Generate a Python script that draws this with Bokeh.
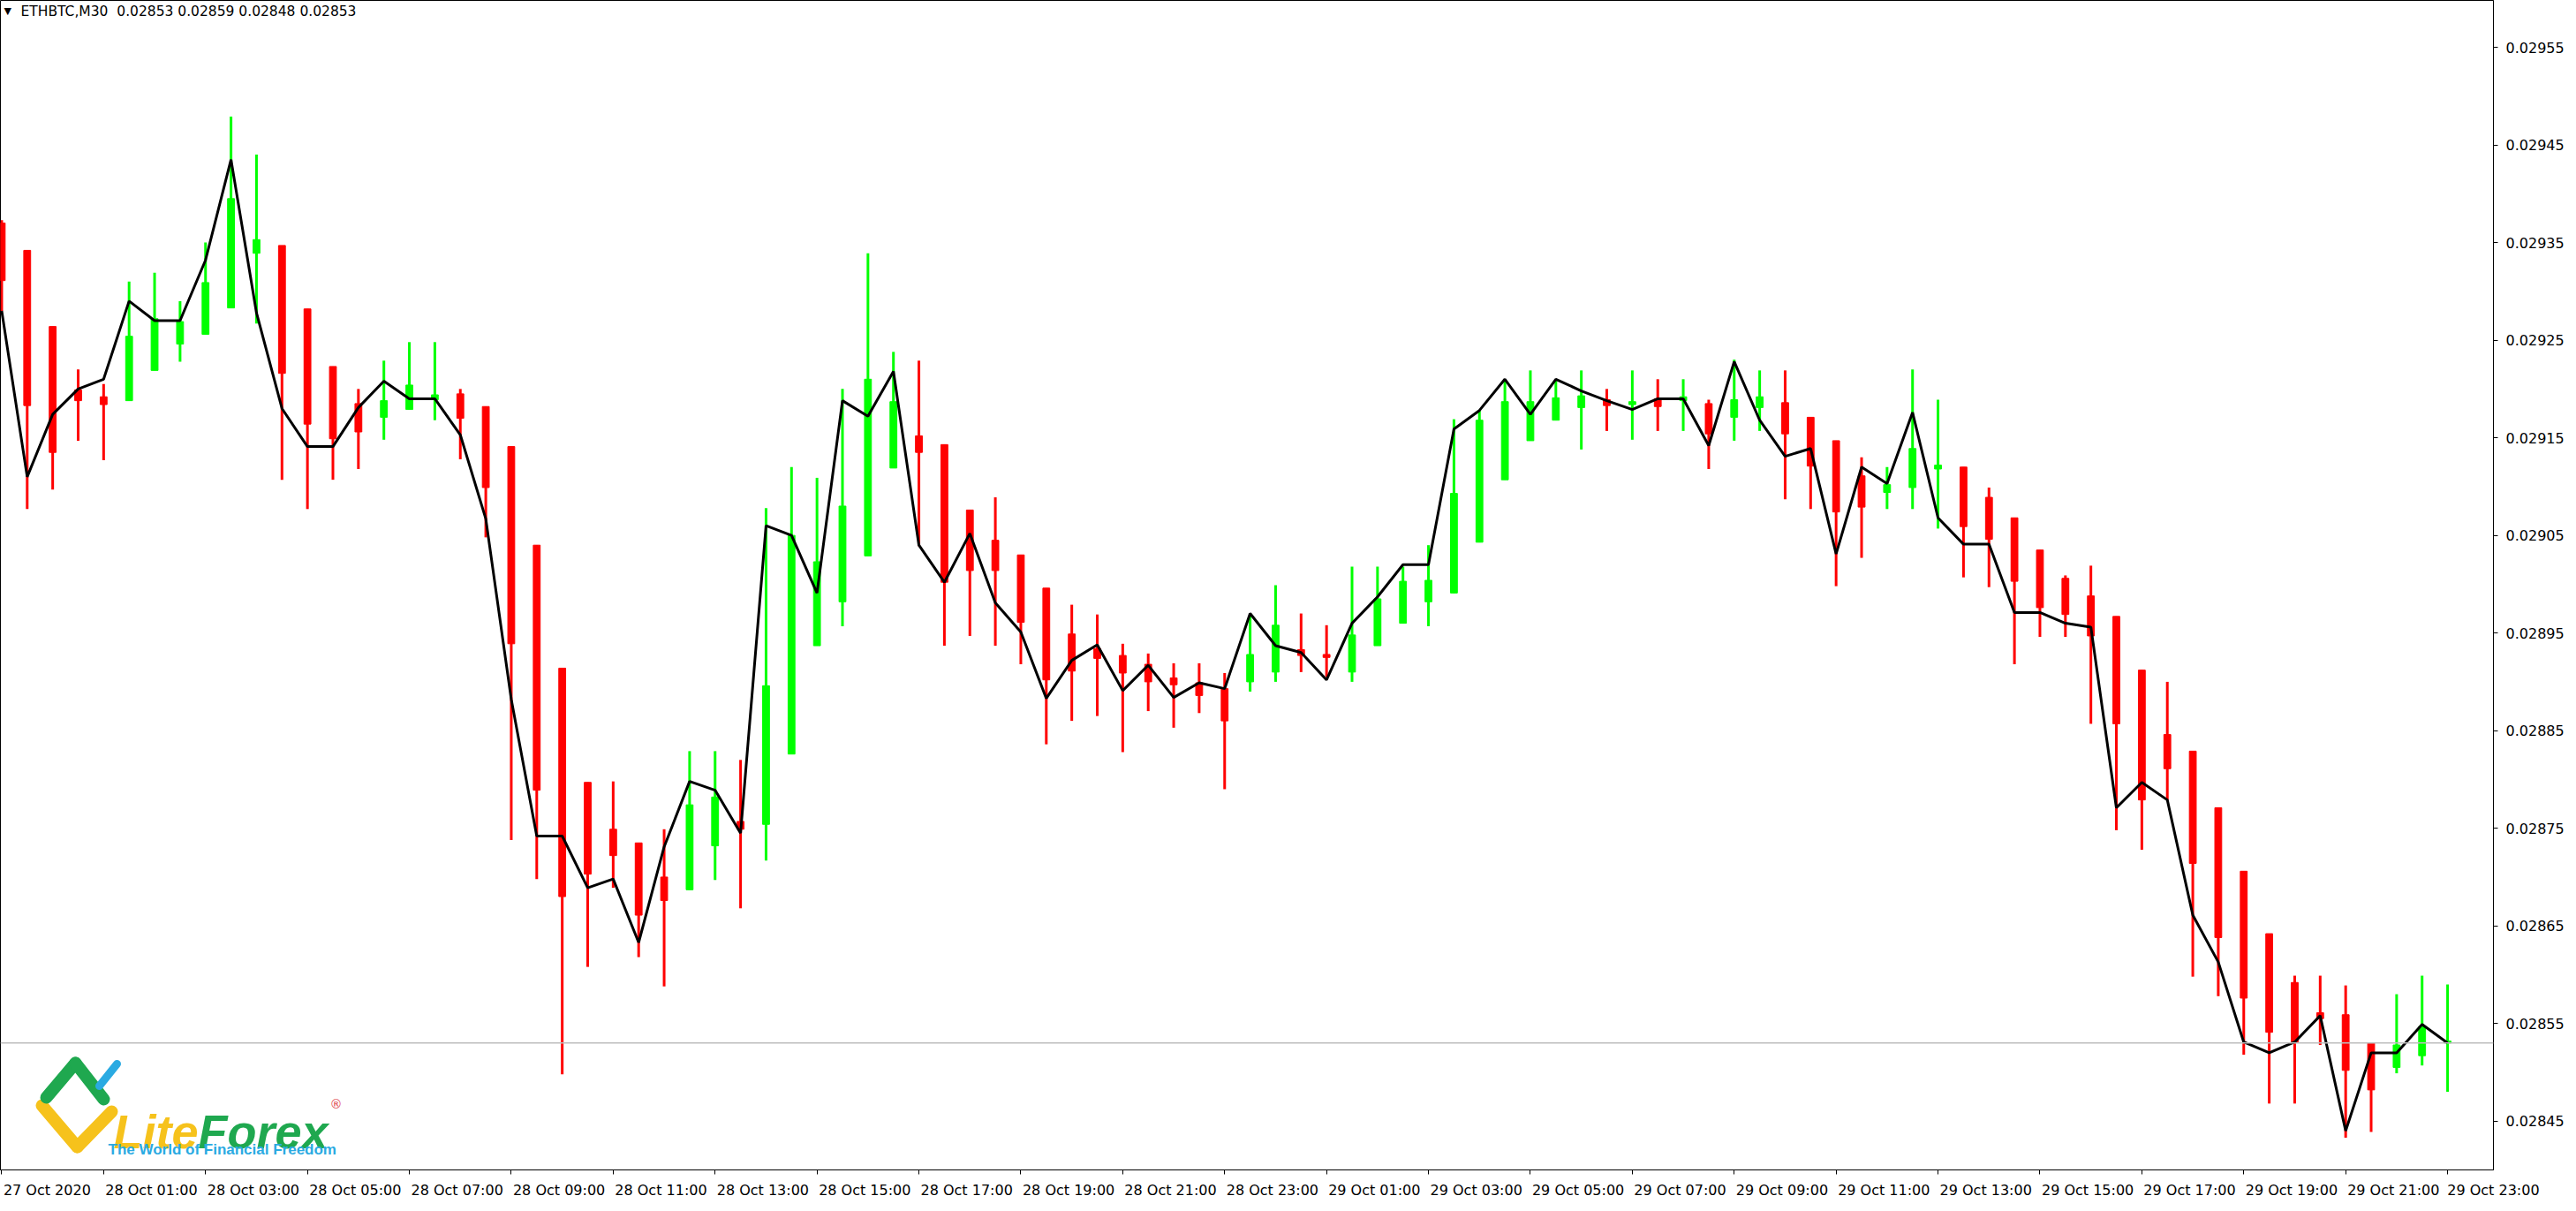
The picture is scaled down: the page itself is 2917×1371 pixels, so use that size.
from bokeh.plotting import figure
from bokeh.models import Range1d, FixedTicker, Span, Label, ColumnDataSource, Arrow
from bokeh.embed import file_html
from bokeh.resources import INLINE

# ---------------- data (ETHBTC, M30, Heikin-Ashi candles + close line) ----------------
symbol = "ETHBTC,M30"
last_ohlc = ["0.02853", "0.02859", "0.02848", "0.02853"]
last_price = 0.02853

ha_open = [
    0.029370, 0.029342, 0.029264, 0.029199, 0.029192, 0.029188, 0.029219, 0.029246, 0.029256, 0.029283,
    0.029339, 0.029347, 0.029282, 0.029223, 0.029185, 0.029171, 0.029179, 0.029189, 0.029195, 0.029182,
    0.029141, 0.029040, 0.028914, 0.028797, 0.028749, 0.028735, 0.028700, 0.028687, 0.028732, 0.028757,
    0.028754, 0.028826, 0.028937, 0.028982, 0.029029, 0.029119, 0.029152, 0.029143, 0.029076, 0.029045,
    0.029030, 0.028996, 0.028949, 0.028934, 0.028927, 0.028918, 0.028904, 0.028899, 0.028893, 0.028900,
    0.028910, 0.028933, 0.028928, 0.028910, 0.028937, 0.028960, 0.028982, 0.028991, 0.029043, 0.029107,
    0.029147, 0.029168, 0.029181, 0.029189, 0.029184, 0.029190, 0.029188, 0.029185, 0.029171, 0.029181,
    0.029186, 0.029171, 0.029147, 0.029111, 0.029094, 0.029099, 0.029118, 0.029120, 0.029089, 0.029068,
    0.029035, 0.029006, 0.028988, 0.028967, 0.028912, 0.028846, 0.028829, 0.028771, 0.028706, 0.028642,
    0.028592, 0.028561, 0.028559, 0.028530, 0.028505, 0.028517, 0.028530]
ha_high = [
    0.029373, 0.029342, 0.029264, 0.029220, 0.029205, 0.029310, 0.029319, 0.029290, 0.029350, 0.029479,
    0.029440, 0.029347, 0.029282, 0.029223, 0.029200, 0.029229, 0.029248, 0.029248, 0.029200, 0.029182,
    0.029141, 0.029040, 0.028914, 0.028797, 0.028798, 0.028735, 0.028749, 0.028829, 0.028829, 0.028820,
    0.029078, 0.029120, 0.029109, 0.029200, 0.029339, 0.029238, 0.029229, 0.029143, 0.029076, 0.029089,
    0.029030, 0.028996, 0.028979, 0.028969, 0.028939, 0.028929, 0.028919, 0.028919, 0.028909, 0.028970,
    0.028999, 0.028970, 0.028958, 0.029018, 0.029018, 0.029018, 0.029040, 0.029169, 0.029178, 0.029210,
    0.029219, 0.029210, 0.029219, 0.029200, 0.029219, 0.029210, 0.029210, 0.029189, 0.029230, 0.029219,
    0.029219, 0.029171, 0.029147, 0.029130, 0.029120, 0.029220, 0.029189, 0.029120, 0.029099, 0.029068,
    0.029035, 0.029009, 0.029019, 0.028967, 0.028912, 0.028900, 0.028829, 0.028771, 0.028706, 0.028642,
    0.028599, 0.028599, 0.028589, 0.028530, 0.028580, 0.028599, 0.028590]
ha_low = [
    0.029280, 0.029077, 0.029097, 0.029147, 0.029127, 0.029188, 0.029219, 0.029228, 0.029256, 0.029283,
    0.029267, 0.029107, 0.029077, 0.029107, 0.029118, 0.029148, 0.029179, 0.029168, 0.029128, 0.029048,
    0.028738, 0.028698, 0.028498, 0.028608, 0.028689, 0.028618, 0.028588, 0.028687, 0.028697, 0.028668,
    0.028717, 0.028826, 0.028937, 0.028957, 0.029029, 0.029119, 0.029039, 0.028937, 0.028947, 0.028937,
    0.028918, 0.028836, 0.028860, 0.028865, 0.028828, 0.028870, 0.028853, 0.028868, 0.028790, 0.028890,
    0.028900, 0.028910, 0.028905, 0.028900, 0.028937, 0.028960, 0.028957, 0.028991, 0.029043, 0.029107,
    0.029147, 0.029168, 0.029138, 0.029157, 0.029148, 0.029157, 0.029157, 0.029118, 0.029147, 0.029157,
    0.029087, 0.029077, 0.028998, 0.029027, 0.029077, 0.029077, 0.029057, 0.029007, 0.028997, 0.028918,
    0.028946, 0.028946, 0.028857, 0.028748, 0.028728, 0.028779, 0.028598, 0.028578, 0.028518, 0.028468,
    0.028468, 0.028528, 0.028433, 0.028439, 0.028499, 0.028507, 0.028480]
ha_close = [
    0.029311, 0.029183, 0.029135, 0.029188, 0.029184, 0.029254, 0.029272, 0.029269, 0.029309, 0.029395,
    0.029353, 0.029216, 0.029164, 0.029149, 0.029156, 0.029188, 0.029204, 0.029194, 0.029170, 0.029099,
    0.028939, 0.028789, 0.028680, 0.028703, 0.028722, 0.028661, 0.028676, 0.028774, 0.028782, 0.028749,
    0.028896, 0.029050, 0.029023, 0.029080, 0.029210, 0.029187, 0.029135, 0.029002, 0.029014, 0.029014,
    0.028961, 0.028902, 0.028911, 0.028924, 0.028909, 0.028900, 0.028897, 0.028886, 0.028860, 0.028928,
    0.028958, 0.028927, 0.028925, 0.028948, 0.028985, 0.029003, 0.029004, 0.029093, 0.029168, 0.029187,
    0.029187, 0.029191, 0.029193, 0.029183, 0.029187, 0.029182, 0.029192, 0.029154, 0.029189, 0.029192,
    0.029154, 0.029121, 0.029074, 0.029079, 0.029102, 0.029139, 0.029122, 0.029059, 0.029046, 0.029003,
    0.028976, 0.028969, 0.028947, 0.028857, 0.028779, 0.028811, 0.028714, 0.028638, 0.028576, 0.028541,
    0.028531, 0.028555, 0.028502, 0.028482, 0.028528, 0.028547, 0.028532]
close_line = [
    0.029280, 0.029110, 0.029174, 0.029200, 0.029210, 0.029290, 0.029270, 0.029270, 0.029332, 0.029435,
    0.029278, 0.029180, 0.029141, 0.029141, 0.029181, 0.029208, 0.029190, 0.029190, 0.029153, 0.029067,
    0.028882, 0.028742, 0.028742, 0.028689, 0.028698, 0.028633, 0.028731, 0.028798, 0.028789, 0.028745,
    0.029060, 0.029050, 0.028991, 0.029188, 0.029172, 0.029218, 0.029040, 0.029002, 0.029052, 0.028981,
    0.028951, 0.028883, 0.028922, 0.028938, 0.028891, 0.028917, 0.028884, 0.028899, 0.028893, 0.028970,
    0.028937, 0.028930, 0.028902, 0.028960, 0.028987, 0.029020, 0.029020, 0.029159, 0.029178, 0.029210,
    0.029174, 0.029210, 0.029198, 0.029188, 0.029179, 0.029190, 0.029190, 0.029142, 0.029228, 0.029168,
    0.029131, 0.029139, 0.029031, 0.029120, 0.029103, 0.029176, 0.029068, 0.029041, 0.029041, 0.028971,
    0.028971, 0.028960, 0.028956, 0.028771, 0.028797, 0.028779, 0.028661, 0.028613, 0.028531, 0.028520,
    0.028531, 0.028558, 0.028440, 0.028520, 0.028520, 0.028549, 0.028530]

x_tick_bars = [0, 4, 8, 12, 16, 20, 24, 28, 32, 36, 40, 44, 48,
               52, 56, 60, 64, 68, 72, 76, 80, 84, 88, 92, 96]
x_tick_labels = ["27 Oct 2020",
                 "28 Oct 01:00", "28 Oct 03:00", "28 Oct 05:00", "28 Oct 07:00", "28 Oct 09:00", "28 Oct 11:00",
                 "28 Oct 13:00", "28 Oct 15:00", "28 Oct 17:00", "28 Oct 19:00", "28 Oct 21:00", "28 Oct 23:00",
                 "29 Oct 01:00", "29 Oct 03:00", "29 Oct 05:00", "29 Oct 07:00", "29 Oct 09:00", "29 Oct 11:00",
                 "29 Oct 13:00", "29 Oct 15:00", "29 Oct 17:00", "29 Oct 19:00", "29 Oct 21:00", "29 Oct 23:00"]
y_ticks = [0.02845, 0.02855, 0.02865, 0.02875, 0.02885, 0.02895,
           0.02905, 0.02915, 0.02925, 0.02935, 0.02945, 0.02955]
y_tick_labels = ["0.02845", "0.02855", "0.02865", "0.02875", "0.02885", "0.02895",
                 "0.02905", "0.02915", "0.02925", "0.02935", "0.02945", "0.02955"]

# ---------------- layout ----------------
FONT = "DejaVu Sans"
FRAME_W, FRAME_H = 2823, 1324
X0, X1 = -0.05, 97.8
Y0, Y1 = 0.028400, 0.029598
px_per_bar = FRAME_W / (X1 - X0)

UP, DOWN = "#00FF00", "#FF0000"
n = len(ha_open)
xs = list(range(n))
colors = [UP if c >= o else DOWN for o, c in zip(ha_open, ha_close)]
src = ColumnDataSource(dict(
    x=xs, high=ha_high, low=ha_low,
    top=[max(o, c) for o, c in zip(ha_open, ha_close)],
    bottom=[min(o, c) for o, c in zip(ha_open, ha_close)],
    color=colors, close=close_line))

p = figure(frame_width=FRAME_W, frame_height=FRAME_H,
           x_range=Range1d(X0, X1), y_range=Range1d(Y0, Y1),
           output_backend="svg", toolbar_location=None,
           y_axis_location="right", x_axis_location="below",
           min_border_left=0, min_border_top=0, min_border_right=0, min_border_bottom=0,
           background_fill_color="white", border_fill_color="white",
           outline_line_color="black", outline_line_width=1)
p.xgrid.visible = False
p.ygrid.visible = False

# current price line
p.add_layout(Span(location=last_price, dimension="width", line_color="#BDBDBD", line_width=1.5))

# candles
p.segment(x0="x", y0="low", x1="x", y1="high", source=src, line_color="color", line_width=3)
p.vbar(x="x", width=0.27, top="top", bottom="bottom", source=src,
       fill_color="color", line_color="color", line_width=1)
# close line
p.line(x="x", y="close", source=src, line_color="black", line_width=3)

# ---------------- axes ----------------
CW = {" ": 0.318, "O": 0.787, "c": 0.55, "t": 0.392, ":": 0.337}
XFS = 16
def tw(s):
    return sum(CW.get(ch, 0.636) for ch in s) * XFS

# MT4 draws date labels left-aligned at their tick: major ticks (hidden) carry the
# label centres, minor ticks mark the real bar positions.
centers = [min(b + (tw(l) / 2 + 2) / px_per_bar, X1 - 0.002)
           for b, l in zip(x_tick_bars, x_tick_labels)]
xa = p.xaxis[0]
xa.ticker = FixedTicker(ticks=centers, minor_ticks=x_tick_bars)
xa.major_label_overrides = {c: l for c, l in zip(centers, x_tick_labels)}
xa.major_tick_out = 0
xa.major_tick_in = 0
xa.minor_tick_out = 5
xa.minor_tick_in = 0
xa.minor_tick_line_color = "black"
xa.minor_tick_line_width = 1
xa.major_label_standoff = 8
xa.major_label_text_font = FONT
xa.major_label_text_font_size = f"{XFS}px"
xa.major_label_text_color = "black"
xa.axis_line_color = "black"
xa.axis_line_width = 1

ya = p.yaxis[0]
ya.ticker = FixedTicker(ticks=y_ticks, minor_ticks=[])
ya.major_label_overrides = {v: l for v, l in zip(y_ticks, y_tick_labels)}
ya.major_tick_out = 5
ya.major_tick_in = 0
ya.minor_tick_out = 0
ya.minor_tick_in = 0
ya.major_tick_line_color = "black"
ya.major_label_standoff = 9
ya.major_label_text_font = FONT
ya.major_label_text_font_size = "16px"
ya.major_label_text_color = "black"
ya.axis_line_color = "black"
ya.axis_line_width = 1

# price tag on the axis
p.add_layout(Label(x=FRAME_W + 5, y=last_price, x_units="screen", y_units="data",
                   text=f"{last_price:.5f}", text_font=FONT, text_font_size="16px",
                   text_color="white", text_baseline="middle", text_align="left",
                   background_fill_color="black", padding=2))

# header
p.add_layout(Label(x=4, y=FRAME_H - 12, x_units="screen", y_units="screen", text="\u25BC",
                   text_font=FONT, text_font_size="11px", text_color="black", text_baseline="middle"))
p.add_layout(Label(x=23, y=FRAME_H - 12, x_units="screen", y_units="screen",
                   text=symbol + "\u00A0\u00A0" + " ".join(last_ohlc),
                   text_font=FONT, text_font_size="15.5px", text_color="black", text_baseline="middle"))

# ---------------- LiteForex watermark ----------------
def seg(x0, y0, x1, y1, color, w):
    p.add_layout(Arrow(x_start=x0, y_start=y0, x_end=x1, y_end=y1, start=None, end=None,
                       start_units="screen", end_units="screen",
                       line_color=color, line_width=w, line_cap="round"))

GREEN, YELLOW, BLUE = "#1FA84F", "#F6C21C", "#2AAAE2"
seg(47, 73, 87, 26, YELLOW, 14)
seg(87, 26, 126, 66, YELLOW, 14)
seg(52, 82, 85, 121, GREEN, 14)
seg(85, 121, 117, 80, GREEN, 14)
seg(112, 95, 132, 120, BLUE, 9)
LOGO_FONT = "Liberation Sans"
p.add_layout(Label(x=128, y=44, x_units="screen", y_units="screen", text="Lite",
                   text_font=LOGO_FONT, text_font_size="54px", text_font_style="bold italic",
                   text_color=YELLOW, text_baseline="alphabetic"))
p.add_layout(Label(x=224, y=44, x_units="screen", y_units="screen", text="Forex",
                   text_font=LOGO_FONT, text_font_size="54px", text_font_style="bold italic",
                   text_color=GREEN, text_baseline="alphabetic"))
p.add_layout(Label(x=373, y=75, x_units="screen", y_units="screen", text="\u00AE",
                   text_font=FONT, text_font_size="14px", text_color="#E0474C", text_baseline="middle"))
p.add_layout(Label(x=122, y=23, x_units="screen", y_units="screen", text="The World of Financial Freedom",
                   text_font=LOGO_FONT, text_font_size="17px", text_font_style="bold",
                   text_color=BLUE, text_baseline="alphabetic"))

open("out.html", "w").write(file_html(p, INLINE))
